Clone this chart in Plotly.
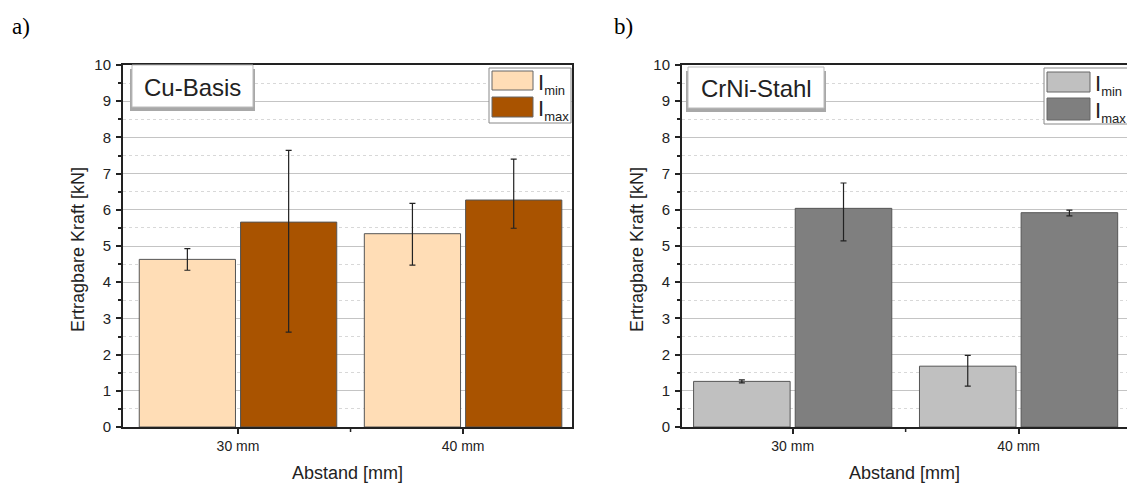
import plotly.graph_objects as go

W, H = 1127, 484

categories = ["30 mm", "40 mm"]
series_names = ["I<sub>min</sub>", "I<sub>max</sub>"]
series_subscripts = ["min", "max"]

# Panel a) Cu-Basis
cu_imin = [4.63, 5.34]
cu_imin_plus = [0.30, 0.84]
cu_imin_minus = [0.30, 0.87]
cu_imax = [5.66, 6.27]
cu_imax_plus = [1.98, 1.13]
cu_imax_minus = [3.04, 0.78]

# Panel b) CrNi-Stahl
cr_imin = [1.26, 1.68]
cr_imin_plus = [0.04, 0.30]
cr_imin_minus = [0.04, 0.55]
cr_imax = [6.04, 5.92]
cr_imax_plus = [0.70, 0.07]
cr_imax_minus = [0.90, 0.09]

y_ticks = list(range(0, 11))

cu_colors = ["#FFDDB6", "#A95300"]
cr_colors = ["#C0C0C0", "#7F7F7F"]


def px(x):
    return x / W


def py(y):
    return 1 - y / H


fig = go.Figure()

panels = [
    ("x", "y", [cu_imin, cu_imax], [cu_imin_plus, cu_imax_plus], [cu_imin_minus, cu_imax_minus], cu_colors),
    ("x2", "y2", [cr_imin, cr_imax], [cr_imin_plus, cr_imax_plus], [cr_imin_minus, cr_imax_minus], cr_colors),
]

for xa, ya, vals, plus, minus, cols in panels:
    for i in range(2):
        fig.add_trace(go.Bar(
            x=categories, y=vals[i], name=series_names[i],
            xaxis=xa, yaxis=ya, offsetgroup=str(i),
            marker=dict(color=cols[i], line=dict(color="#555555", width=1)),
            error_y=dict(type="data", symmetric=False, array=plus[i], arrayminus=minus[i],
                         color="#222222", thickness=1.2, width=3),
            showlegend=False,
        ))

FONT = "Liberation Sans, Arial"
axis_font = dict(family=FONT, size=15, color="#222222")

common_y = dict(
    range=[0, 10], tickvals=y_ticks, ticks="outside", ticklen=5, tickwidth=1.5, tickcolor="#222",
    showline=True, linecolor="#222", linewidth=2, mirror=True,
    showgrid=True, gridcolor="#C4C4C4", gridwidth=1,
    minor=dict(dtick=0.5, ticks="outside", ticklen=3, tickcolor="#222", showgrid=True,
               gridcolor="#D8D8D8", griddash="dot", gridwidth=1),
    tickfont=axis_font, zeroline=False, automargin=False, ticklabelstandoff=2,
)
common_x = dict(
    type="category", ticks="outside", ticklen=5, tickwidth=1.5, tickcolor="#222",
    showline=True, linecolor="#222", linewidth=2, mirror=True, showgrid=False,
    tickfont=dict(family=FONT, size=14, color="#222"), automargin=False,
)

fig.update_layout(
    width=W, height=H, autosize=False,
    margin=dict(l=0, r=0, t=0, b=0),
    paper_bgcolor="white", plot_bgcolor="white",
    barmode="group", bargap=0.1, bargroupgap=0.05,
    xaxis=dict(domain=[px(123), px(572)], anchor="y", range=[-0.511, 1.484], **common_x),
    yaxis=dict(domain=[py(427), py(65)], anchor="x", **common_y),
    xaxis2=dict(domain=[px(682), 1.0], anchor="y2", range=[-0.49, 1.48], **common_x),
    yaxis2=dict(domain=[py(427), py(65)], anchor="x2", **common_y),
)

shapes = []
annotations = []

# middle ticks between categories
for xa in ["x", "x2"]:
    shapes.append(dict(type="line", xref=xa, yref="paper", x0=0.5, x1=0.5,
                       y0=py(427), y1=py(432), line=dict(color="#222", width=1.5)))

# axis titles
for cx, ycx in [(347, 78), (905, 637)]:
    annotations.append(dict(text="Abstand [mm]", x=px(cx), y=py(473), xref="paper", yref="paper",
                            showarrow=False, xanchor="center", yanchor="middle",
                            font=dict(family=FONT, size=18, color="#222")))
    annotations.append(dict(text="Ertragbare Kraft [kN]", x=px(ycx), y=py(250), xref="paper", yref="paper",
                            showarrow=False, xanchor="center", yanchor="middle", textangle=-90,
                            font=dict(family=FONT, size=18, color="#222")))

# panel labels
annotations.append(dict(text="a)", x=px(10), y=py(26), xref="paper", yref="paper",
                        xanchor="left", yanchor="middle", showarrow=False,
                        font=dict(family="Liberation Serif, Times New Roman", size=23, color="black")))
annotations.append(dict(text="b)", x=px(612), y=py(26), xref="paper", yref="paper",
                        xanchor="left", yanchor="middle", showarrow=False,
                        font=dict(family="Liberation Serif, Times New Roman", size=23, color="black")))

# title boxes with shadow
for (x0, x1, y0, y1, label) in [(132, 253, 65, 107, "Cu-Basis"), (688, 824, 67, 108, "CrNi-Stahl")]:
    shapes.append(dict(type="rect", xref="paper", yref="paper", layer="above",
                       x0=px(x0 - 2), x1=px(x1 + 2), y0=py(y1 + 4), y1=py(y0 + 4),
                       fillcolor="#A8A8A8", line=dict(width=0)))
    shapes.append(dict(type="rect", xref="paper", yref="paper", layer="above",
                       x0=px(x0), x1=px(x1), y0=py(y1), y1=py(y0),
                       fillcolor="white", line=dict(color="#BBBBBB", width=1)))
    annotations.append(dict(text=label, x=px((x0 + x1) / 2), y=py((y0 + y1) / 2 + 1),
                            xref="paper", yref="paper", showarrow=False,
                            xanchor="center", yanchor="middle",
                            font=dict(family=FONT, size=24, color="#222")))

# custom legends
legend_specs = [
    (489, 571, 68, 123, 492, 533, [(71, 90), (97, 117)], cu_colors),
    (1044, 1130, 68, 124, 1047, 1090, [(72, 92), (98, 120)], cr_colors),
]
for (bx0, bx1, by0, by1, sx0, sx1, rows, cols) in legend_specs:
    shapes.append(dict(type="rect", xref="paper", yref="paper", layer="above",
                       x0=px(bx0), x1=px(bx1), y0=py(by1), y1=py(by0),
                       fillcolor="white", line=dict(color="#888888", width=1)))
    for (ry0, ry1), c, sub in zip(rows, cols, series_subscripts):
        shapes.append(dict(type="rect", xref="paper", yref="paper", layer="above",
                           x0=px(sx0), x1=px(sx1), y0=py(ry1), y1=py(ry0),
                           fillcolor=c, line=dict(color="#666666", width=1)))
        label = "I<sub><span style='font-size:13px'>" + sub + "</span></sub>"
        annotations.append(dict(text=label, x=px(sx1 + 3), y=py((ry0 + ry1) / 2 + 3),
                                xref="paper", yref="paper", showarrow=False,
                                xanchor="left", yanchor="middle",
                                font=dict(family=FONT, size=22, color="#222")))

fig.update_layout(shapes=shapes, annotations=annotations)

fig.write_html("out.html")
